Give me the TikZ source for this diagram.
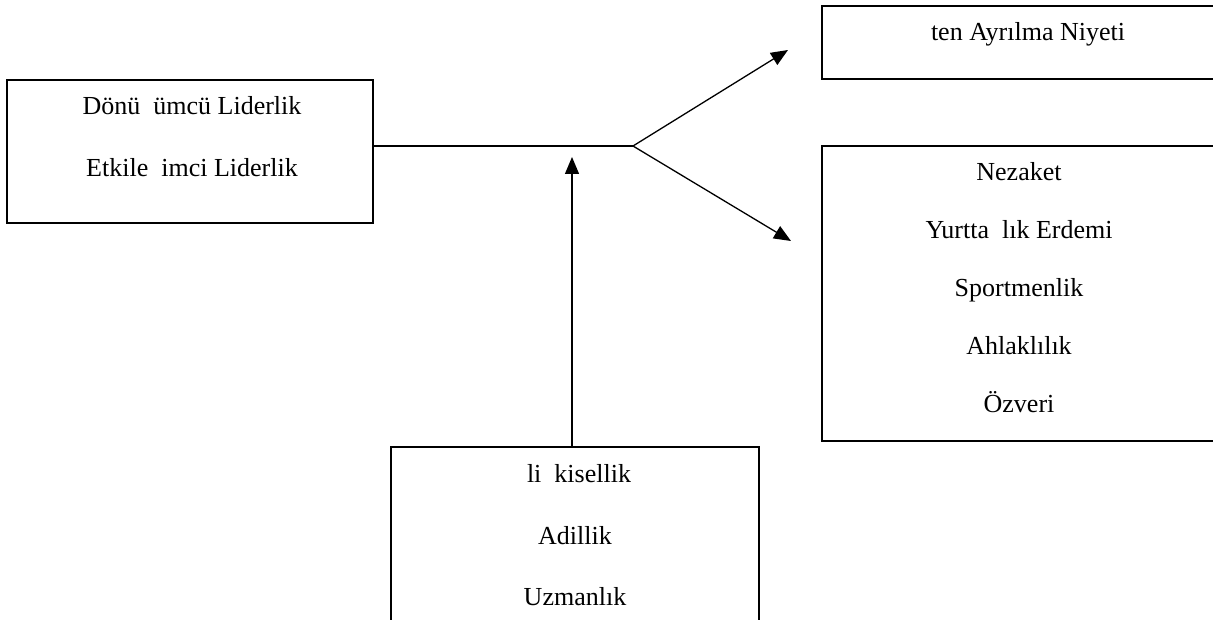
\documentclass[tikz,border=0pt]{standalone}
\usepackage{fontspec}
\setmainfont{Liberation Serif}
\usetikzlibrary{arrows.meta}
\tikzset{
  boxnode/.style={draw, line width=1.3pt, inner sep=0pt},
  label/.style={anchor=base, inner sep=0pt, font=\fontsize{26}{30}\selectfont},
  conn/.style={line width=1.3pt},
  arr/.style={conn, -{Triangle[length=17pt,width=14pt]}}
}
\begin{document}
\begin{tikzpicture}[x=1pt,y=1pt]
\useasboundingbox (0,0) rectangle (1213,619);
% boxes
\node[boxnode, minimum width=394pt, minimum height=73pt] (top) at (1019,576.5) {};
\node[boxnode, minimum width=394pt, minimum height=295pt] (right) at (1019,325.5) {};
\node[boxnode, minimum width=366pt, minimum height=143pt] (left) at (190,467.5) {};
\node[boxnode, minimum width=368pt, minimum height=220pt] (bottom) at (575,62) {};
% texts
\node[label] (t1) at (192,504) {Dönü\ \ ümcü Liderlik};
\node[label] (t2) at (192,442) {Etkile\ \ imci Liderlik};
\node[label] (t3) at (1028,578) {ten Ayrılma Niyeti};
\node[label] (t4) at (1019,438) {Nezaket};
\node[label] (t5) at (1019,380) {Yurtta\ \ lık Erdemi};
\node[label] (t6) at (1019,322) {Sportmenlik};
\node[label] (t7) at (1019,264) {Ahlaklılık};
\node[label] (t8) at (1019,206) {Özveri};
\node[label] (t9) at (579,137) {li\ \ kisellik};
\node[label] (t10) at (575,75) {Adillik};
\node[label] (t11) at (575,14) {Uzmanlık};
% connectors
\coordinate (branch) at (633,473);
\coordinate (upTip) at (788,569);
\coordinate (downTip) at (791,378);
\coordinate (vTip) at (572,462);
\draw[conn] (left.east |- branch) -- (branch);
\draw[arr] (branch) -- (upTip);
\draw[arr] (branch) -- (downTip);
\draw[arr] (bottom.north -| vTip) -- (vTip);
\end{tikzpicture}
\end{document}
